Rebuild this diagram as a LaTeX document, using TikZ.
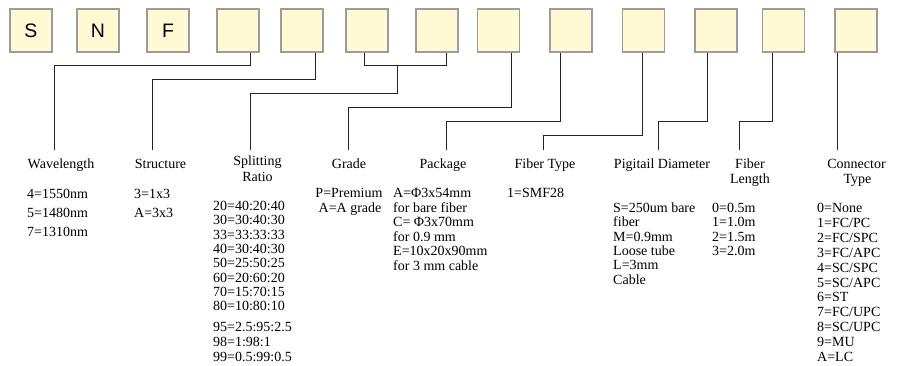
\documentclass[tikz,border=0pt]{standalone}
\usepackage{fontspec}
\setmainfont{Liberation Serif}
\newfontfamily\boxfont{Liberation Sans}
\definecolor{boxfill}{HTML}{FFF9D4}
\definecolor{boxline}{HTML}{9C9C9C}
\definecolor{wire}{HTML}{222222}
\begin{document}
\begin{tikzpicture}[x=1pt,y=-1pt,
  codebox/.style={draw=boxline,fill=boxfill,line width=1.2pt,minimum width=42pt,minimum height=43pt,inner sep=0pt,font=\boxfont\fontsize{19.5}{20}\selectfont},
  conn/.style={draw=wire,line width=1pt},
  lbl/.style={inner sep=0pt,anchor=base,font=\fontsize{14}{14}\selectfont},
  val/.style={inner sep=0pt,anchor=base west,font=\fontsize{14}{14}\selectfont},
  valc/.style={inner sep=0pt,anchor=base,font=\fontsize{14}{14}\selectfont}]
\useasboundingbox (0,0) rectangle (903,365);
% boxes
\node[codebox] (b1) at (31,30.5) {S};
\node[codebox] (b2) at (98,30.5) {N};
\node[codebox] (b3) at (168,30.5) {F};
\node[codebox] (b4) at (238,30.5) {};
\node[codebox] (b5) at (302,30.5) {};
\node[codebox] (b6) at (367,30.5) {};
\node[codebox] (b7) at (437,30.5) {};
\node[codebox] (b8) at (498.5,30.5) {};
\node[codebox] (b9) at (571,30.5) {};
\node[codebox] (b10) at (643.5,30.5) {};
\node[codebox] (b11) at (716,30.5) {};
\node[codebox] (b12) at (783.5,30.5) {};
\node[codebox] (b13) at (856,30.5) {};
% connector end points
\coordinate (e1) at (54,150);
\coordinate (e2) at (152,150);
\coordinate (e3) at (250,150);
\coordinate (e4) at (348,150);
\coordinate (e5) at (446,150);
\coordinate (e6) at (543,150);
\coordinate (e7) at (658,150);
\coordinate (e8) at (739,150);
\coordinate (e9) at (837,150);
\coordinate (j3) at (397,65.3);
% connectors
\draw[conn] ([xshift=12pt]b4.south) |- (54,65.3) -- (e1);
\draw[conn] ([xshift=13pt]b5.south) |- (152,79.3) -- (e2);
\draw[conn] ([xshift=-3pt]b6.south) |- (j3) -| ([xshift=9pt]b7.south);
\draw[conn] (j3) |- (250,93.3) -- (e3);
\draw[conn] ([xshift=12.5pt]b8.south) |- (348,107.3) -- (e4);
\draw[conn] ([xshift=-11pt]b9.south) |- (446,121.3) -- (e5);
\draw[conn] ([xshift=-1.5pt]b10.south) |- (543,135) -- (e6);
\draw[conn] ([xshift=-9pt]b11.south) |- (658,121.7) -- (e7);
\draw[conn] ([xshift=-11.5pt]b12.south) |- (739,121.7) -- (e8);
\draw[conn] ([xshift=-19pt]b13.south) -- (e9);
% labels
\node[lbl] (l1) at (61,168) {Wavelength};
\node[lbl] (l2) at (160.5,168) {Structure};
\node[lbl] (l3a) at (257.5,165) {Splitting};
\node[lbl] (l3b) at (257.5,181.5) {Ratio};
\node[lbl] (l4) at (349,168) {Grade};
\node[lbl] (l5) at (443,168) {Package};
\node[lbl] (l6) at (545,168) {Fiber Type};
\node[lbl] (l7) at (662,168) {Pigitail Diameter};
\node[lbl] (l8a) at (750,168) {Fiber};
\node[lbl] (l8b) at (750,183) {Length};
\node[lbl] (l9a) at (856.5,168) {Connector};
\node[lbl] (l9b) at (857.5,183) {Type};
% values
\node[val] (w1) at (27,198) {4=1550nm};
\node[val] (w2) at (27,217.5) {5=1480nm};
\node[val] (w3) at (27,236) {7=1310nm};
\node[val] (s1) at (134,198) {3=1x3};
\node[val] (s2) at (134,217.5) {A=3x3};
\foreach \t [count=\i from 0] in {20=40:20:40,30=30:40:30,33=33:33:33,40=30:40:30,50=25:50:25,60=20:60:20,70=15:70:15,80=10:80:10}
  \node[val] (r\i) at (213,210.6+14.3*\i) {\t};
\foreach \t [count=\i from 0] in {95=2.5:95:2.5,98=1:98:1,99=0.5:99:0.5}
  \node[val] (q\i) at (213,331.7+15*\i) {\t};
\node[valc] (g1) at (349,197.7) {P=Premium};
\node[valc] (g2) at (350,212.7) {A=A grade};
\foreach \t [count=\i from 0] in {A=Φ3x54mm,for bare fiber,C= Φ3x70mm,for 0.9 mm,E=10x20x90mm,for 3 mm cable}
  \node[val] (p\i) at (393,197.7+14.5*\i) {\t};
\node[val] (f1) at (507,197.7) {1=SMF28};
\foreach \t [count=\i from 0] in {S=250um bare,fiber,M=0.9mm,Loose tube,L=3mm,Cable}
  \node[val] (d\i) at (613,212.5+14.3*\i) {\t};
\foreach \t [count=\i from 0] in {0=0.5m,1=1.0m,2=1.5m,3=2.0m}
  \node[val] (n\i) at (712,212.5+14.3*\i) {\t};
\foreach \t [count=\i from 0] in {0=None,1=FC/PC,2=FC/SPC,3=FC/APC,4=SC/SPC,5=SC/APC,6=ST,7=FC/UPC,8=SC/UPC,9=MU,A=LC}
  \node[val] (c\i) at (817,212.5+14.9*\i) {\t};
\end{tikzpicture}
\end{document}
